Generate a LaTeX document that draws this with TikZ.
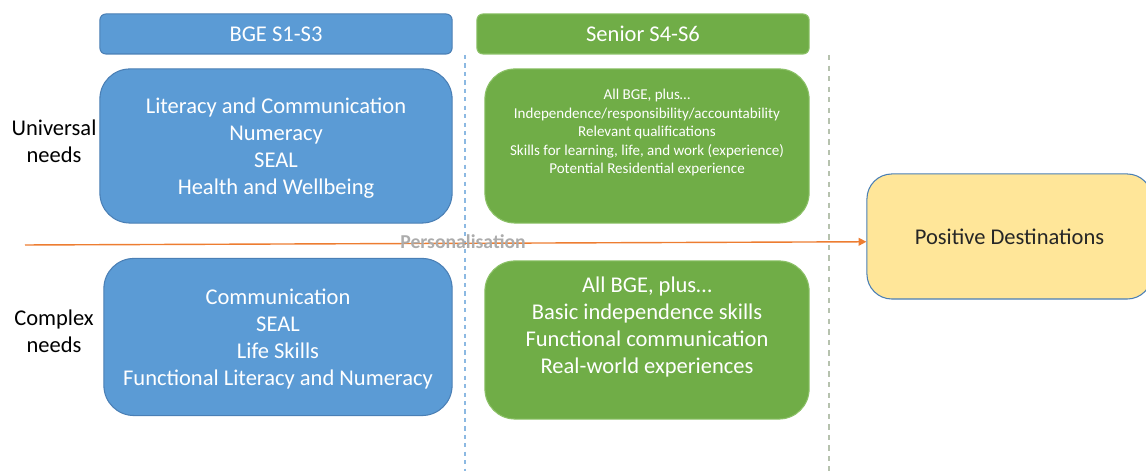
\documentclass[tikz,border=0pt]{standalone}
\usepackage{fontspec}
\setmainfont{Carlito}
\usetikzlibrary{positioning,arrows.meta}

\definecolor{bgeblue}{HTML}{5B9BD5}
\definecolor{bgeedge}{HTML}{4A7FB5}
\definecolor{srgreen}{HTML}{70AD47}
\definecolor{sredge}{HTML}{8CC168}
\definecolor{destyellow}{HTML}{FFE699}
\definecolor{pathorange}{HTML}{ED7D31}

\newcommand{\bigtext}{\fontsize{6.4pt}{7.68pt}\selectfont}
\newcommand{\smalltext}{\fontsize{4.28pt}{5.26pt}\selectfont}

\tikzset{
  head/.style={draw=bgeedge, line width=.3pt, rounded corners=.06cm,
    minimum height=.40cm, text=white, font=\bigtext},
  stagebox/.style={draw=bgeedge, line width=.3pt, rounded corners=.3cm,
    text=white, align=center, font=\bigtext},
  needlabel/.style={align=center, font=\bigtext},
}

\begin{document}
\begin{tikzpicture}[x=.01cm, y=-.01cm]
  \useasboundingbox (0,0) rectangle (1146,471);

  % column headers
  \node[head, fill=bgeblue, minimum width=3.52cm] (bge) at (276,34) {BGE S1-S3};
  \node[head, fill=srgreen, draw=sredge, minimum width=3.32cm] (senior) at (643,34) {Senior S4-S6};

  % column guides
  \draw[bgeblue!70, line width=.4pt, dash pattern=on 1.2pt off 1.2pt] (465,55) -- (465,471);
  \draw[srgreen!35!gray!55, line width=.4pt, dash pattern=on 1.5pt off 1.5pt] (829,55) -- (829,471);

  % row labels
  \node[needlabel] (univ) at (54,141) {Universal\\needs};
  \node[needlabel] (cplx) at (54,331) {Complex\\needs};

  % BGE boxes
  \node[stagebox, fill=bgeblue, minimum width=3.52cm, minimum height=1.54cm] (bgeuniv) at (276,146) {};
  \node[align=center, text=white, font=\bigtext] (bgeunivtext) at ([yshift=-.5pt]bgeuniv.center)
    {Literacy and Communication\\Numeracy\\SEAL\\Health and Wellbeing};
  \node[stagebox, fill=bgeblue, minimum width=3.48cm, minimum height=1.57cm] (bgecplx) at (278,337) {};
  \node[align=center, text=white, font=\bigtext] (bgecplxtext) at ([yshift=-.5pt]bgecplx.center)
    {Communication\\SEAL\\Life Skills\\Functional Literacy and Numeracy};

  % senior boxes
  \node[stagebox, fill=srgreen, draw=sredge, minimum width=3.24cm, minimum height=1.54cm] (srbox) at (647,146) {};
  \node[align=center, text=white, font=\smalltext] (srtext) at ([yshift=3.8pt]srbox.center)
    {All BGE, plus\ldots\\Independence/responsibility/accountability\\Relevant qualifications\\
     Skills for learning, life, and work (experience)\\Potential Residential experience};
  \node[stagebox, fill=srgreen, draw=sredge, minimum width=3.24cm, minimum height=1.58cm] (srcplx) at (647,340) {};
  \node[align=center, text=white, font=\bigtext] (srcplxtext) at ([yshift=3.6pt]srcplx.center)
    {All BGE, plus\ldots\\Basic independence skills\\Functional communication\\Real-world experiences};

  % destination
  \node[stagebox, fill=destyellow, text=black!85, minimum width=2.85cm, minimum height=1.25cm,
    rounded corners=.25cm] (dest) at (1009.5,236.5) {Positive Destinations};

  % personalisation arrow
  \coordinate (pstart) at (25,245);
  \draw[pathorange, line width=.4pt, -{Triangle[length=2.2pt,width=2.2pt]}] (pstart) -- ([yshift=-1.5pt]dest.west);
  \node[text=gray!65, font=\fontsize{5.6pt}{6pt}\selectfont\bfseries] (pers) at (463,242) {Personalisation};
\end{tikzpicture}
\end{document}
